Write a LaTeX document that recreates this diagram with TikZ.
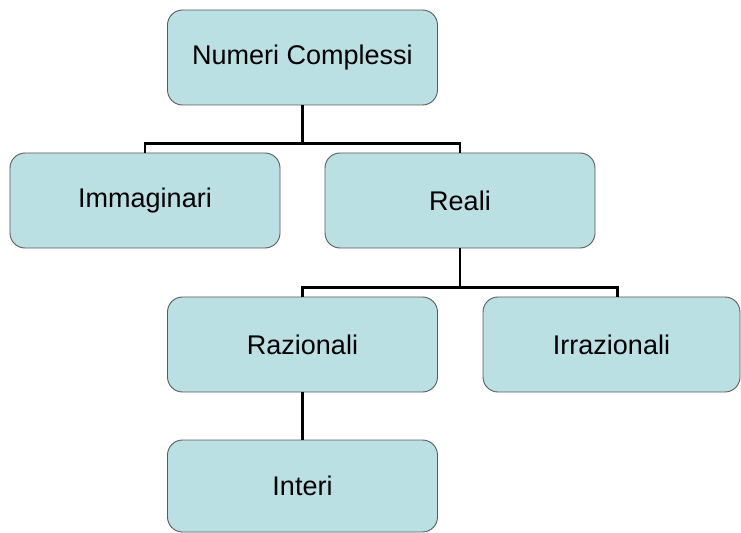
\documentclass[tikz,border=0pt]{standalone}
\usepackage{fontspec}
\setmainfont{Liberation Sans}
\definecolor{boxfill}{RGB}{187,224,227}
\definecolor{boxline}{RGB}{90,90,90}
\begin{document}
\begin{tikzpicture}[x=1bp, y=-1bp,
      box/.style = {shape=rectangle, rounded corners=15bp,
        draw=boxline, line width=0.9bp, fill=boxfill,
        align=center, inner sep=0pt,
        minimum width=270bp, minimum height=95bp,
        font=\fontsize{27bp}{30bp}\selectfont
      },
      ramo/.style = {draw=black, line width=2.3bp}
    ]
    \useasboundingbox (0,0) rectangle (741,533);

    % nodi
    \node[box] (compl) at (302.5, 57.5) {Numeri Complessi};
    \node[box] (immag) at (145, 200.5) {Immaginari};
    \node[box] (reali) at (460, 200.5) {Reali};
    \node[box] (razio) at (302.5, 344.5) {Razionali};
    \node[box, minimum width=257bp] (irraz) at (611.5, 344.5) {Irrazionali};
    \node[box, minimum height=92bp] (inter) at (302.5, 486) {Interi};

    % rami
    \path (compl.south) -- ++(0,38) coordinate (nodo1);
    \path (reali.south) -- ++(0,39) coordinate (nodo2);
    \coordinate (irrtop) at ([xshift=6bp]irraz.north);
    \draw[ramo] (compl.south) -- (nodo1);
    \draw[ramo] (immag.north) |- (nodo1) -| (reali.north);
    \draw[ramo] (reali.south) -- (nodo2);
    \draw[ramo] (razio.north) |- (nodo2) -| (irrtop);
    \draw[ramo] (razio.south) -- (inter.north);
\end{tikzpicture}
\end{document}
